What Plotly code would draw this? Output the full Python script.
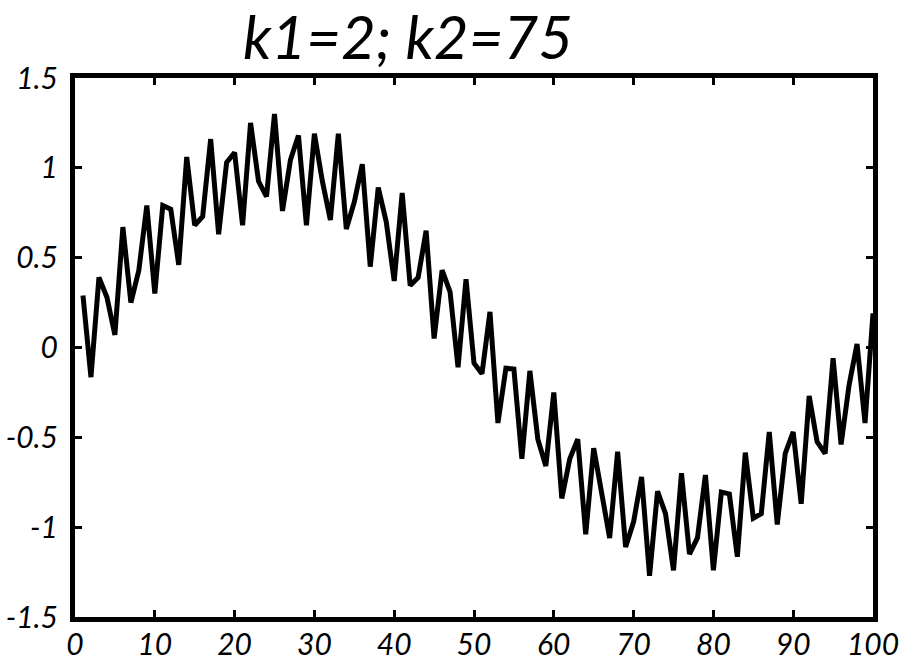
import plotly.graph_objects as go

sample_index = list(range(1, 101))
signal = [
    0.29, -0.165, 0.39, 0.28, 0.07, 0.67, 0.25, 0.43, 0.79, 0.30,
    0.79, 0.77, 0.46, 1.06, 0.68, 0.73, 1.16, 0.63, 1.03, 1.085,
    0.68, 1.25, 0.925, 0.84, 1.30, 0.76, 1.045, 1.18, 0.68, 1.19,
    0.925, 0.71, 1.19, 0.66, 0.81, 1.02, 0.45, 0.89, 0.70, 0.37,
    0.86, 0.345, 0.39, 0.65, 0.05, 0.43, 0.31, -0.11, 0.38, -0.087,
    -0.146, 0.198, -0.42, -0.115, -0.12, -0.62, -0.13, -0.51, -0.66, -0.25,
    -0.84, -0.62, -0.51, -1.04, -0.56, -0.83, -1.06, -0.58, -1.11, -0.97,
    -0.72, -1.27, -0.80, -0.925, -1.24, -0.70, -1.15, -1.06, -0.71, -1.24,
    -0.805, -0.815, -1.165, -0.585, -0.95, -0.925, -0.47, -0.985, -0.59, -0.47,
    -0.87, -0.27, -0.525, -0.59, -0.06, -0.54, -0.21, 0.02, -0.42, 0.19,
]

x_ticks = [0, 10, 20, 30, 40, 50, 60, 70, 80, 90, 100]
x_ticktext = ["0", "10", "20", "30", "40", "50", "60", "70", "80", "90", "100"]
y_ticks = [-1.5, -1, -0.5, 0, 0.5, 1, 1.5]
y_ticktext = ["-1.5", "-1", "-0.5", "0", "0.5", "1", "1.5"]
title_text = "k1=2; k2=75"

FONT = "Lato"

fig = go.Figure()
fig.add_trace(go.Scatter(
    x=sample_index, y=signal, mode="lines",
    line=dict(color="black", width=5),
    cliponaxis=True, showlegend=False,
))

axis_common = dict(
    showgrid=False, zeroline=False,
    showline=True, linecolor="black", linewidth=5,
    mirror="allticks", ticks="inside", ticklen=7, tickwidth=3,
    tickcolor="black",
    tickfont=dict(family=FONT, size=30, color="black", style="italic"),
)

fig.update_layout(
    width=915, height=661,
    paper_bgcolor="white", plot_bgcolor="white",
    margin=dict(l=75, r=42, t=78, b=44, autoexpand=False),
    title=dict(
        text=title_text, x=408 / 915, xanchor="center", xref="container",
        y=1 - 38 / 661, yanchor="middle", yref="container",
        font=dict(family=FONT, size=60, color="black", style="italic"),
    ),
    xaxis=dict(range=[0, 100], tickvals=x_ticks, ticktext=x_ticktext,
               ticklabelstandoff=-3, **axis_common),
    yaxis=dict(range=[-1.5, 1.5], tickvals=y_ticks, ticktext=y_ticktext,
               ticklabelstandoff=6, **axis_common),
)

fig.write_html("out.html", config={"displayModeBar": False},
               post_script="document.body.style.margin='0';")
